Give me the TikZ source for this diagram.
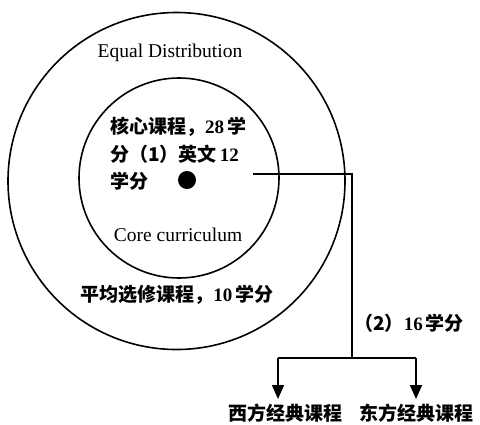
\documentclass[tikz,border=0pt]{standalone}
\usepackage{fontspec}
\setmainfont{Liberation Serif}
\newfontfamily\cjk{Noto Sans CJK SC}
\usetikzlibrary{arrows.meta}
\newcommand{\zh}[1]{{\cjk\bfseries #1}}
\newcommand{\nm}[1]{{\bfseries #1}}
\begin{document}
\begin{tikzpicture}[x=1pt,y=-1pt,
  ring/.style={draw,line width=1.6pt},
  lbl/.style={inner sep=0pt,font=\fontsize{19}{27.5}\selectfont},
  en/.style={inner sep=0pt,font=\fontsize{19.5}{22}\selectfont},
  conn/.style={line width=1.8pt},
  arr/.style={conn,-{Triangle[width=12pt,length=14pt]}}]
\useasboundingbox (0,0) rectangle (480,424);
\draw[ring] (176.5,181) circle[radius=168.5];
\draw[ring] (179,178) circle[radius=100];
\fill (187,180) circle[radius=9];
\node[en] (eq) at (170,53) {Equal Distribution};
\node[lbl,anchor=north west,align=left] (core) at (110,117)
  {\zh{核心课程，}\nm{28}\,\zh{学}\\\zh{分（1）英文}\,\nm{12}\\\zh{学分}};
\node[en] (cc) at (178,235) {Core curriculum};
\node[lbl] (avg) at (177,295) {\zh{平均选修课程，}\nm{10}\,\zh{学分}};
\node[lbl,anchor=west] (cr) at (354,323) {\zh{（2）}\nm{16}\,\zh{学分}};
\node[lbl] (w) at (285,413) {\zh{西方经典课程}};
\node[lbl] (e) at (416,413) {\zh{东方经典课程}};
\coordinate (s) at (253,174);
\coordinate (c) at (352,174);
\coordinate (b) at (352,358);
\coordinate (bl) at (278,358);
\coordinate (br) at (416,358);
\draw[conn] (s) -- (c) -- (b);
\draw[conn] (bl) -- (br);
\draw[arr] (bl) -- (278,399);
\draw[arr] (br) -- (416,399);
\end{tikzpicture}
\end{document}
